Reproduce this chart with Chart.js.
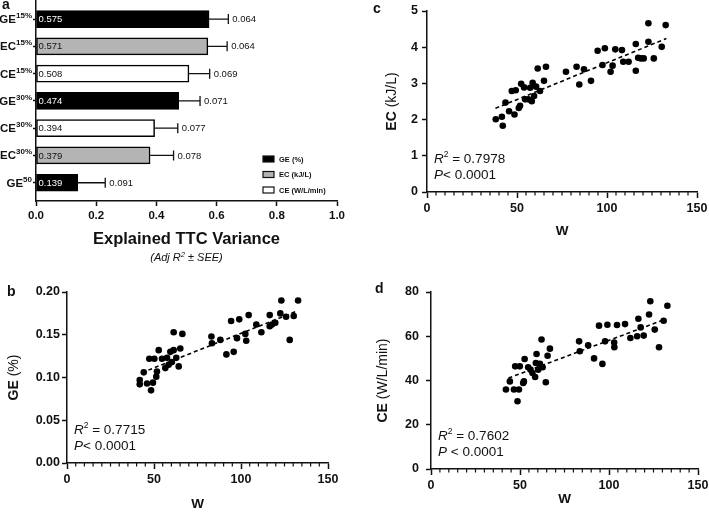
<!DOCTYPE html>
<html>
<head>
<meta charset="utf-8">
<script src="https://cdn.jsdelivr.net/npm/chart.js@4.4.1/dist/chart.umd.min.js"></script>
<style>
  html, body { margin: 0; padding: 0; background: #fff; }
  #wrap { position: relative; width: 709px; height: 514px; overflow: hidden; }
  canvas { position: absolute; }
</style>
</head>
<body>
<div id="wrap">
  <canvas id="chartA" width="355" height="270" style="left:0;top:0"></canvas>
  <canvas id="chartB" width="355" height="244" style="left:0;top:270px"></canvas>
  <canvas id="chartC" width="354" height="260" style="left:355px;top:0"></canvas>
  <canvas id="chartD" width="354" height="254" style="left:355px;top:260px"></canvas>
</div>
<script>
// ---- Panel a: explained variance bars ----
const barNames = ['GE', 'EC', 'CE', 'GE', 'CE', 'EC', 'GE'];
const barSups = ['15%', '15%', '15%', '30%', '30%', '30%', '50'];
const barValues = [0.575, 0.571, 0.508, 0.474, 0.394, 0.379, 0.139];
const barSee = [0.064, 0.064, 0.069, 0.071, 0.077, 0.078, 0.091];
const barPos = [0, 1, 2, 3, 4, 5, 6];
const groupNames = ['GE', 'EC', 'CE'];
const groupLabels = ['GE (%)', 'EC (kJ/L)', 'CE (W/L/min)'];
const groupFills = ['#000000', '#b4b4b4', '#ffffff'];

// ---- Panel b: GE vs W ----
const wB = [41.8, 41.8, 44.1, 46.0, 47.3, 48.3, 49.4, 50.2, 51.3, 51.7, 52.7, 54.6, 56.5, 57.5, 58.4, 59.4,
  60.3, 61.3, 61.3, 62.8, 64.2, 65.1, 66.3, 83.0, 83.3, 88.1, 91.6, 94.3, 95.8, 97.7, 99.0, 102.5,
  103.0, 104.4, 108.8, 111.7, 116.5, 116.5, 117.8, 119.7, 122.6, 123.2, 125.9, 128.0, 130.3, 132.8];
const geB = [0.097, 0.092, 0.106, 0.093, 0.122, 0.085, 0.094, 0.122, 0.101, 0.107, 0.132, 0.122, 0.111, 0.123, 0.115, 0.130,
  0.118, 0.132, 0.153, 0.123, 0.113, 0.134, 0.151, 0.148, 0.140, 0.144, 0.127, 0.166, 0.130, 0.146, 0.168, 0.151,
  0.143, 0.173, 0.162, 0.153, 0.173, 0.160, 0.162, 0.164, 0.175, 0.190, 0.171, 0.144, 0.172, 0.190];
const trendWB = [43, 132];
const trendGE = [0.1056, 0.1775];

// ---- Panel c: EC vs W ----
const wC = [38.2, 41.6, 42.1, 43.6, 45.6, 47.1, 48.6, 49.3, 51.0, 51.7, 52.3, 53.9, 54.5, 56.3, 57.3, 58.2,
  58.7, 59.5, 60.6, 61.5, 62.8, 65.0, 66.1, 77.2, 83.1, 84.6, 87.2, 91.1, 94.8, 97.5, 98.8, 102.0,
  103.1, 104.6, 108.3, 109.0, 112.0, 116.0, 116.0, 117.3, 118.8, 120.4, 123.0, 123.0, 126.0, 130.4, 132.6];
const ecC = [2.01, 2.08, 1.83, 2.47, 2.23, 2.79, 2.14, 2.81, 2.32, 2.38, 2.99, 2.89, 2.56, 2.56, 2.88, 2.51,
  3.02, 2.65, 2.91, 3.41, 2.79, 3.07, 3.46, 3.32, 3.46, 2.97, 3.39, 3.07, 3.90, 3.51, 3.97, 3.32,
  3.49, 3.94, 3.92, 3.60, 3.60, 4.09, 3.35, 3.71, 3.69, 3.69, 4.15, 4.66, 3.69, 4.01, 4.61];
const trendWC = [38, 133];
const trendEC = [2.31, 4.24];

// ---- Panel d: CE vs W ----
const wD = [42.1, 44.3, 46.6, 47.3, 48.6, 49.4, 49.9, 52.2, 51.8, 52.6, 54.6, 55.9, 57.0, 58.5, 58.9, 59.3,
  60.2, 61.2, 62.1, 62.7, 64.5, 65.5, 66.8, 83.2, 83.6, 88.3, 91.6, 94.4, 96.3, 97.8, 99.1, 102.9,
  103.0, 104.5, 109.0, 112.0, 115.8, 116.5, 117.8, 119.5, 122.5, 123.2, 125.7, 128.1, 130.7, 132.8];
const ceD = [35.9, 39.6, 35.9, 46.4, 30.6, 35.9, 46.4, 39.6, 38.9, 49.7, 46.0, 44.9, 43.4, 41.6, 47.9, 52.0,
  44.9, 47.5, 58.5, 46.0, 39.2, 51.2, 54.4, 57.7, 53.2, 55.9, 50.0, 64.8, 47.5, 57.7, 65.2, 57.2,
  55.0, 65.1, 65.5, 59.2, 60.0, 67.9, 64.0, 60.3, 69.8, 75.8, 63.0, 55.0, 67.0, 73.8];
const trendWD = [43.5, 132];
const trendCE = [41.1, 67.8];

const F = "'Liberation Sans', Arial, Helvetica, sans-serif";
const INK = '#111';
Chart.defaults.font.family = F;
Chart.defaults.color = INK;

function richWidth(ctx, parts) {
  let w = 0;
  parts.forEach(p => { ctx.font = p.font; w += ctx.measureText(p.text).width; });
  return w;
}

function drawRich(ctx, parts, x, y, align) {
  const w = richWidth(ctx, parts);
  let cx = align === 'center' ? x - w / 2 : (align === 'right' ? x - w : x);
  ctx.textAlign = 'left';
  ctx.textBaseline = 'alphabetic';
  parts.forEach(p => {
    ctx.font = p.font;
    ctx.fillStyle = p.color || INK;
    ctx.fillText(p.text, cx, y + (p.dy || 0));
    cx += ctx.measureText(p.text).width;
  });
}

// Bar chart (panel a)
new Chart(document.getElementById('chartA'), {
  type: 'bar',
  data: {
    datasets: [{
      data: barValues.map((v, i) => ({ x: v, y: barPos[i] })),
      backgroundColor: barNames.map(n => groupFills[groupNames.indexOf(n)]),
      borderColor: '#000',
      borderWidth: 1.5,
      borderSkipped: false,
      barThickness: 17
    }]
  },
  options: {
    indexAxis: 'y',
    responsive: false,
    animation: false,
    events: [],
    layout: { padding: { top: 0, right: 18, bottom: 0, left: 0 } },
    plugins: { legend: { display: false }, tooltip: { enabled: false } },
    scales: {
      x: {
        type: 'linear', min: 0, max: 1,
        ticks: { stepSize: 0.2, callback: v => v.toFixed(1), font: { weight: 'bold', size: 11.5 }, color: INK, padding: 3 },
        grid: { drawOnChartArea: false, tickLength: 5, tickColor: INK, tickWidth: 1.5 },
        border: { color: INK, width: 1.5 },
        afterFit: s => { s.height = 69; s.paddingLeft = 0; s.paddingRight = 0; }
      },
      y: {
        type: 'linear', reverse: true, offset: false, min: -0.7, max: 6.67,
        afterBuildTicks: s => { s.ticks = barPos.map(v => ({ value: v })); },
        ticks: { callback: () => '' },
        grid: { drawOnChartArea: false, offset: false, tickLength: 3, tickColor: INK, tickWidth: 1.5 },
        border: { color: INK, width: 1.5 },
        afterFit: s => { s.width = 36; s.paddingTop = 0; s.paddingBottom = 0; }
      }
    }
  },
  plugins: [{
    id: 'barDeco',
    afterDraw(chart) {
      const ctx = chart.ctx;
      const xs = chart.scales.x, ys = chart.scales.y, area = chart.chartArea;
      ctx.save();
      barValues.forEach((v, i) => {
        const y = ys.getPixelForValue(barPos[i]);
        const x0 = xs.getPixelForValue(v);
        const x1 = xs.getPixelForValue(v + barSee[i]);
        // error bar
        ctx.strokeStyle = INK;
        ctx.lineWidth = 1.3;
        ctx.beginPath();
        ctx.moveTo(x0, y); ctx.lineTo(x1, y);
        ctx.moveTo(x1, y - 5); ctx.lineTo(x1, y + 5);
        ctx.stroke();
        // value inside bar
        const fill = groupFills[groupNames.indexOf(barNames[i])];
        ctx.font = `9.5px ${F}`;
        ctx.textAlign = 'left';
        ctx.textBaseline = 'middle';
        ctx.fillStyle = fill === '#000000' ? '#fff' : INK;
        ctx.fillText(v.toFixed(3), area.left + 2.5, y + 0.5);
        ctx.fillStyle = INK;
        ctx.fillText(barSee[i].toFixed(3), x1 + 4, y + 0.5);
        // category label with superscript
        drawRich(ctx, [
          { text: barNames[i], font: `bold 11.5px ${F}` },
          { text: barSups[i], font: `bold 8px ${F}`, dy: -5 }
        ], area.left - 4, y + 4, 'right');
      });
      // legend
      groupNames.forEach((g, k) => {
        const ly = area.bottom - 42 + k * 15.5;
        const lx = area.right - 74;
        ctx.fillStyle = groupFills[k];
        ctx.fillRect(lx, ly - 3, 11, 6);
        ctx.strokeStyle = INK;
        ctx.lineWidth = 1.2;
        ctx.strokeRect(lx, ly - 3, 11, 6);
        ctx.font = `bold 7.5px ${F}`;
        ctx.fillStyle = INK;
        ctx.textAlign = 'left';
        ctx.textBaseline = 'middle';
        ctx.fillText(groupLabels[k], lx + 16, ly + 0.5);
      });
      // titles
      const cx = (area.left + area.right) / 2;
      drawRich(ctx, [{ text: 'Explained TTC Variance', font: `bold 16.5px ${F}` }], cx, 244, 'center');
      drawRich(ctx, [
        { text: '(Adj R', font: `italic 11px ${F}` },
        { text: '2', font: `italic 7.5px ${F}`, dy: -4.5 },
        { text: ' \u00b1 SEE)', font: `italic 11px ${F}` }
      ], cx, 261, 'center');
      drawRich(ctx, [{ text: 'a', font: `bold 14px ${F}` }], 2, 9, 'left');
      ctx.restore();
    }
  }]
});

// Scatter panels (b, c, d)
function scatterPanel(id, cfg) {
  return new Chart(document.getElementById(id), {
    type: 'scatter',
    data: {
      datasets: [
        {
          data: cfg.w.map((w, i) => ({ x: w, y: cfg.v[i] })),
          backgroundColor: '#000', borderWidth: 0, pointRadius: 3.3
        },
        {
          type: 'line',
          data: cfg.trendW.map((w, i) => ({ x: w, y: cfg.trendV[i] })),
          borderColor: '#000', borderWidth: 1.6, borderDash: [4, 3], pointRadius: 0, fill: false
        }
      ]
    },
    options: {
      responsive: false,
      animation: false,
      events: [],
      layout: { padding: cfg.pad },
      plugins: { legend: { display: false }, tooltip: { enabled: false } },
      scales: {
        x: {
          type: 'linear', min: 0, max: 150,
          ticks: { stepSize: 50, font: { weight: 'bold', size: 12.5 }, color: INK, padding: 3 },
          grid: { drawOnChartArea: false, tickLength: 6, tickColor: INK, tickWidth: 1.5 },
          border: { color: INK, width: 1.5 },
          afterFit: s => { s.height = cfg.xh; s.paddingLeft = 0; s.paddingRight = 0; }
        },
        y: {
          type: 'linear', min: 0, max: cfg.ymax,
          ticks: { stepSize: cfg.ystep, callback: cfg.yfmt, font: { weight: 'bold', size: 12.5 }, color: INK, padding: cfg.ypad },
          grid: { drawOnChartArea: false, tickLength: 5, tickColor: INK, tickWidth: 1.5 },
          border: { color: INK, width: 1.5 },
          afterFit: s => { s.width = cfg.yw; s.paddingTop = 0; s.paddingBottom = 0; }
        }
      }
    },
    plugins: [{
      id: 'scatterDeco',
      afterDraw(chart) {
        const ctx = chart.ctx;
        const xs = chart.scales.x, area = chart.chartArea;
        ctx.save();
        // minor ticks every 5 W
        ctx.strokeStyle = INK;
        ctx.lineWidth = 1.2;
        ctx.beginPath();
        for (let t = 5; t < 150; t += 5) {
          if (t % 50 === 0) continue;
          const px = xs.getPixelForValue(t);
          ctx.moveTo(px, area.bottom);
          ctx.lineTo(px, area.bottom + 3.5);
        }
        ctx.stroke();
        // axis titles
        const cx = (area.left + area.right) / 2;
        const cy = (area.top + area.bottom) / 2;
        drawRich(ctx, [{ text: 'W', font: `bold 13.5px ${F}` }], cx, cfg.wBase, 'center');
        ctx.save();
        ctx.translate(cfg.yTitleX, cy);
        ctx.rotate(-Math.PI / 2);
        drawRich(ctx, [
          { text: cfg.yName, font: `bold 14px ${F}` },
          { text: ' ' + cfg.yUnit, font: `14px ${F}` }
        ], 0, 5, 'center');
        ctx.restore();
        // stats
        const sx = area.left + 7;
        drawRich(ctx, [
          { text: 'R', font: `italic 13.5px ${F}` },
          { text: '2', font: `8.5px ${F}`, dy: -6 },
          { text: ' = ' + cfg.r2, font: `13.5px ${F}` }
        ], sx, area.bottom - 29, 'left');
        drawRich(ctx, [
          { text: 'P', font: `italic 13.5px ${F}` },
          { text: cfg.pText, font: `13.5px ${F}` }
        ], sx, area.bottom - 13, 'left');
        drawRich(ctx, [{ text: cfg.letter, font: `bold 14px ${F}` }], cfg.letterX, cfg.letterY, 'left');
        ctx.restore();
      }
    }]
  });
}

scatterPanel('chartB', {
  w: wB, v: geB, trendW: trendWB, trendV: trendGE,
  pad: { top: 22, right: 27, bottom: 0, left: 0 }, xh: 51, yw: 67, ypad: 2,
  ymax: 0.2, ystep: 0.05, yfmt: v => v.toFixed(2),
  yName: 'GE', yUnit: '(%)', yTitleX: 13, wBase: 238,
  r2: '0.7715', pText: '< 0.0001', letter: 'b', letterX: 7, letterY: 26
});

scatterPanel('chartC', {
  w: wC, v: ecC, trendW: trendWC, trendV: trendEC,
  pad: { top: 11, right: 12, bottom: 0, left: 0 }, xh: 68, yw: 72, ypad: 4,
  ymax: 5, ystep: 1, yfmt: v => String(v),
  yName: 'EC', yUnit: '(kJ/L)', yTitleX: 36, wBase: 235,
  r2: '0.7978', pText: '< 0.0001', letter: 'c', letterX: 18, letterY: 13
});

scatterPanel('chartD', {
  w: wD, v: ceD, trendW: trendWD, trendV: trendCE,
  pad: { top: 32, right: 11, bottom: 0, left: 0 }, xh: 45, yw: 76, ypad: 7,
  ymax: 80, ystep: 20, yfmt: v => String(v),
  yName: 'CE', yUnit: '(W/L/min)', yTitleX: 27, wBase: 243,
  r2: '0.7602', pText: ' < 0.0001', letter: 'd', letterX: 20, letterY: 33
});
</script>
</body>
</html>
